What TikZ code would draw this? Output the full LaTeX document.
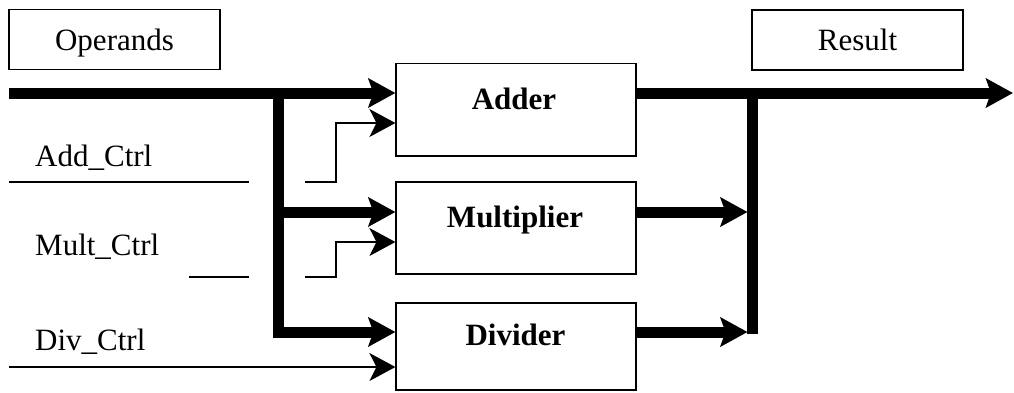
\documentclass[tikz,border=0pt]{standalone}
\usepackage{fontspec}
\setmainfont{Liberation Serif}
\usetikzlibrary{arrows.meta}
\begin{document}
\begin{tikzpicture}[x=1pt,y=-1pt,
  box/.style={draw, line width=1.2pt, inner sep=0pt},
  tbox/.style={box, font=\fontsize{31}{36}\selectfont, minimum width=211pt, minimum height=60pt, text height=21pt, text depth=0pt},
  lbl/.style={font=\fontsize{31}{36}\selectfont, inner sep=0pt, anchor=base west},
  blbl/.style={font=\fontsize{31}{36}\selectfont\bfseries, inner sep=0pt, anchor=base},
  bus/.style={line width=11pt},
  bustip/.style={-{Stealth[length=27pt,width=29pt,inset=5pt]}},
  ctrl/.style={line width=1.2pt},
  ctrltip/.style={-{Stealth[length=26pt,width=28pt,inset=7pt]}},
]
\useasboundingbox (0,0) rectangle (1014,392);

% boxes
\node[tbox] (operands) at (114.5,39.5) {Operands};
\node[tbox] (result) at (857.5,40) {Result};
\node[box, minimum width=240pt, minimum height=92.5pt] (adder) at (516,109.75) {};
\node[box, minimum width=240pt, minimum height=92pt] (mult) at (516,228) {};
\node[box, minimum width=240pt, minimum height=87pt] (div) at (516,346.5) {};
\node[blbl] (adderlbl) at (514,109) {Adder};
\node[blbl] (multlbl) at (515,227) {Multiplier};
\node[blbl] (divlbl) at (515.5,345) {Divider};

% control labels
\node[lbl] (addctrl) at (35,166) {Add\_Ctrl};
\node[lbl] (multctrl) at (35,255) {Mult\_Ctrl};
\node[lbl] (divctrl) at (35,350) {Div\_Ctrl};

% input bus
\coordinate (inL) at (9,93);
\coordinate (split) at (278,93);
\coordinate (splitM) at (278,212);
\coordinate (splitD) at (278,332);
\draw[bus,bustip] (inL) -- (inL -| adder.west);
\draw[bus,bustip] (split) -- (splitD) -- (splitD -| div.west);
\draw[bus,bustip] (splitM) -- (splitM -| mult.west);

% output bus
\coordinate (outR) at (1013,93);
\coordinate (merge) at (752,93);
\coordinate (mergeD) at (752,334);
\coordinate (mM) at (747.5,212);
\coordinate (mD) at (747.5,332);
\draw[bus,bustip] (inL -| adder.east) -- (outR);
\draw[bus] (merge) -- (mergeD);
\draw[bus,bustip] (mM -| mult.east) -- (mM);
\draw[bus,bustip] (mD -| div.east) -- (mD);

% control lines
\coordinate (acA) at (9,182);
\coordinate (acB) at (249,182);
\coordinate (acC) at (305,182);
\coordinate (acK) at (336,123);
\draw[ctrl] (acA) -- (acB);
\draw[ctrl,ctrltip] (acC) -| (acK) -- (acK -| adder.west);

\coordinate (mcA) at (189,277);
\coordinate (mcB) at (249,277);
\coordinate (mcC) at (305,277);
\coordinate (mcK) at (336,242);
\draw[ctrl] (mcA) -- (mcB);
\draw[ctrl,ctrltip] (mcC) -| (mcK) -- (mcK -| mult.west);

\coordinate (dcA) at (9,367);
\draw[ctrl,ctrltip] (dcA) -- (dcA -| div.west);
\end{tikzpicture}
\end{document}
